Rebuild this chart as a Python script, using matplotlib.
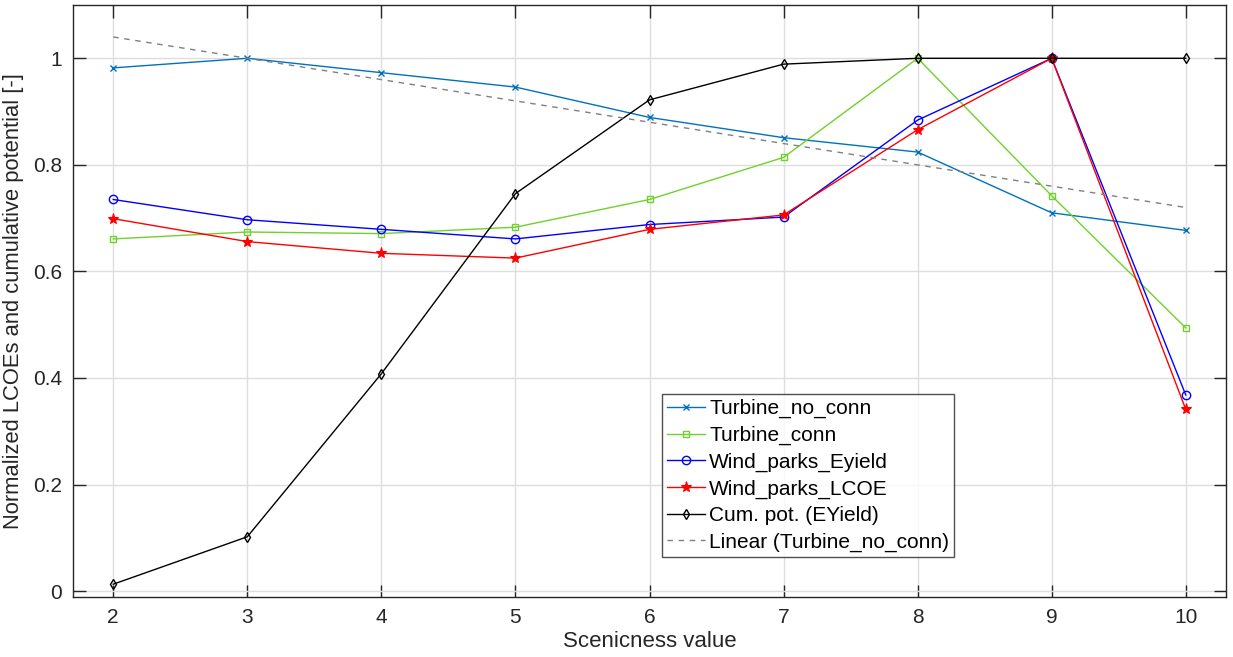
import numpy as np
import matplotlib
matplotlib.use("Agg")
import matplotlib.pyplot as plt

plt.rcParams['font.family'] = ['Liberation Sans', 'DejaVu Sans']

# valores de escenicidad
scenicness = [2, 3, 4, 5, 6, 7, 8, 9, 10]

# LCOE normalizados y potencial acumulado
turbine_no_conn = [0.982, 1.000, 0.973, 0.946, 0.889, 0.851, 0.824, 0.710, 0.677]
turbine_conn = [0.661, 0.674, 0.671, 0.683, 0.735, 0.814, 1.000, 0.742, 0.494]
wind_parks_eyield = [0.735, 0.697, 0.679, 0.661, 0.688, 0.702, 0.884, 1.000, 0.368]
wind_parks_lcoe = [0.699, 0.656, 0.634, 0.625, 0.679, 0.706, 0.866, 1.000, 0.341]
cum_pot = [0.013, 0.102, 0.408, 0.746, 0.922, 0.989, 1.000, 1.000, 1.000]

# tendencia lineal de Turbine_no_conn (extremos)
trend_x = [2, 10]
trend_y = [1.04, 0.72]

fig = plt.figure(figsize=(12.33, 6.57), dpi=100)
ax = fig.add_axes([73/1233, 60/657, 1153/1233, 592/657])

lw = 1.0
ax.plot(scenicness, turbine_no_conn, color='#0072BD', lw=lw, marker='x', ms=4,
        mew=1.0, label='Turbine_no_conn')
ax.plot(scenicness, turbine_conn, color='#6FD12B', lw=lw, marker='s', ms=5,
        mfc='none', mew=1.0, label='Turbine_conn')
ax.plot(scenicness, wind_parks_eyield, color='#0000FF', lw=lw, marker='o', ms=6,
        mfc='none', mew=1.0, label='Wind_parks_Eyield')
ax.plot(scenicness, wind_parks_lcoe, color='#FF0000', lw=lw, marker='*', ms=8,
        mew=0.8, label='Wind_parks_LCOE')
ax.plot(scenicness, cum_pot, color='black', lw=lw, marker='d', ms=5.5,
        mfc='none', mew=1.0, label='Cum. pot. (EYield)')
ax.plot(trend_x, trend_y, color='#808080', lw=1.0, ls=(0, (4, 4)),
        label='Linear (Turbine_no_conn)')

ax.set_xlim(1.7, 10.3)
ax.set_ylim(-0.011, 1.1)
ax.set_xticks(scenicness)
ax.set_yticks([0, 0.2, 0.4, 0.6, 0.8, 1.0])
ax.set_yticklabels(['0', '0.2', '0.4', '0.6', '0.8', '1'])

ax.grid(True, color='#dedede', lw=1.0)
ax.set_axisbelow(True)
for s in ax.spines.values():
    s.set_color('#262626')
    s.set_linewidth(1.0)
ax.tick_params(direction='in', length=9, width=1.0, color='#262626',
               labelsize=15, labelcolor='#262626', top=True, right=True, pad=8)

ax.set_xlabel('Scenicness value', fontsize=16, color='#262626', labelpad=3)
ax.set_ylabel('Normalized LCOEs and cumulative potential [-]', fontsize=15.8,
              color='#262626', labelpad=6)

leg = ax.legend(loc='upper left', bbox_to_anchor=(0.511, 0.343), fontsize=15,
                frameon=True, fancybox=False, edgecolor='#262626',
                handlelength=1.8, handletextpad=0.2, labelspacing=0.36,
                borderpad=0.25, borderaxespad=0)
leg.get_frame().set_linewidth(1.0)

fig.savefig('out.png', dpi=100)
